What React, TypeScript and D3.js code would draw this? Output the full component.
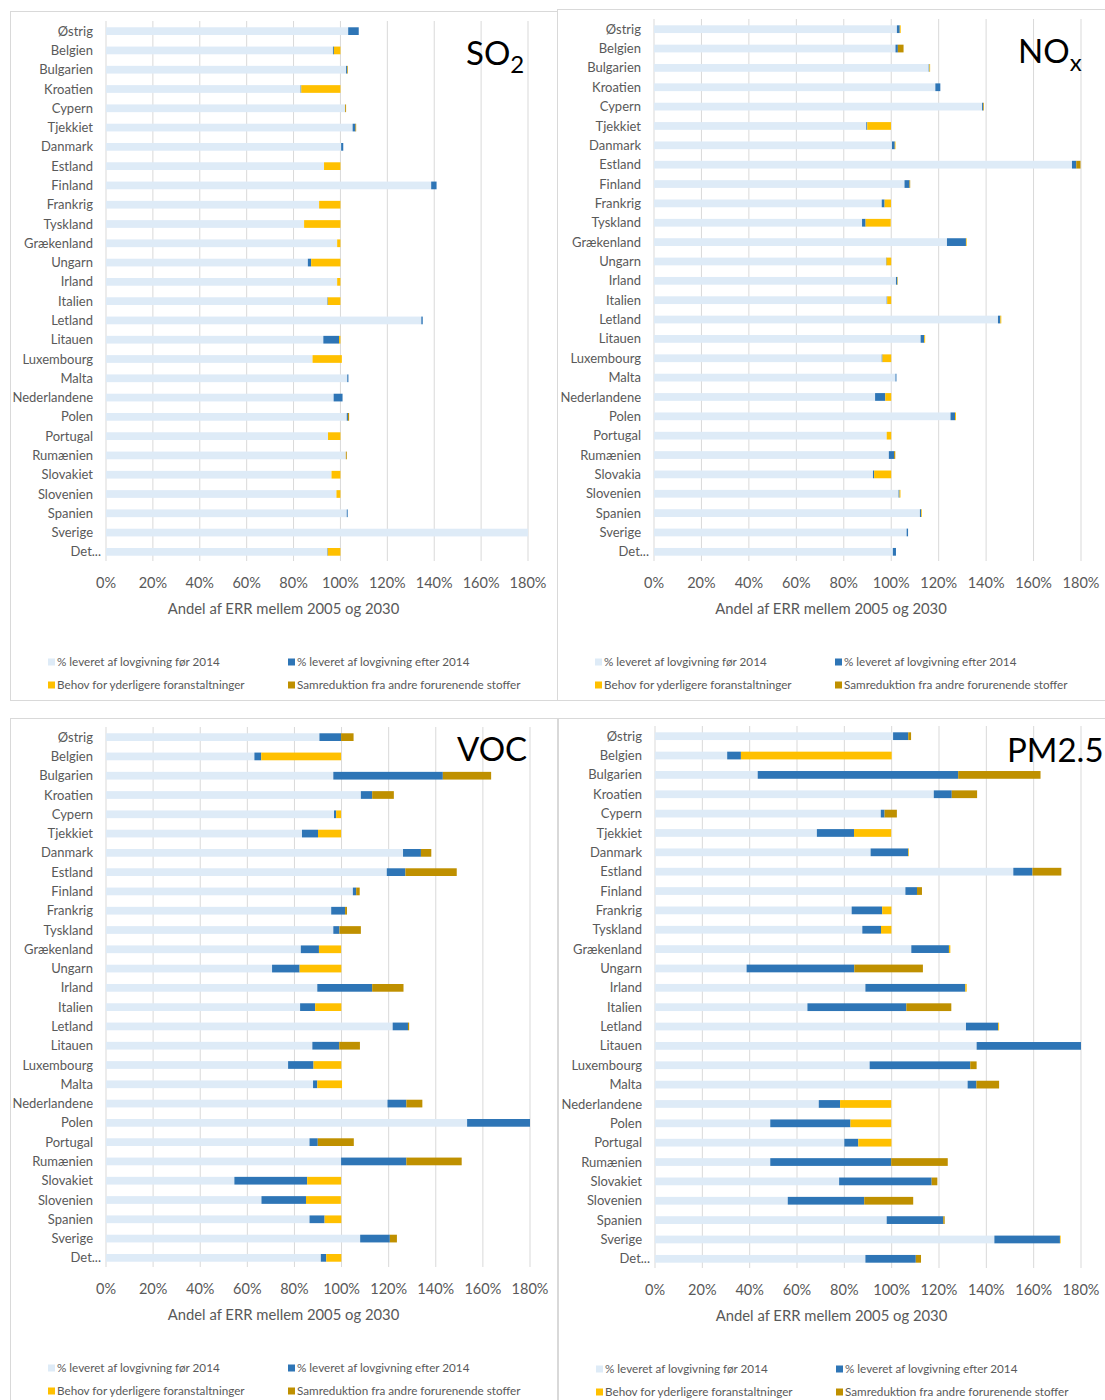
import React from 'react';
import * as d3 from 'd3';

// country labels (NOx panel uses "Slovakia")
const countries = [
  'Østrig', 'Belgien', 'Bulgarien', 'Kroatien', 'Cypern', 'Tjekkiet', 'Danmark', 'Estland', 'Finland',
  'Frankrig', 'Tyskland', 'Grækenland', 'Ungarn', 'Irland', 'Italien', 'Letland', 'Litauen', 'Luxembourg',
  'Malta', 'Nederlandene', 'Polen', 'Portugal', 'Rumænien', 'Slovakiet', 'Slovenien', 'Spanien', 'Sverige', 'Det...',
];
const countriesNox = countries.map(c => (c === 'Slovakiet' ? 'Slovakia' : c));

const tickValues = [0, 20, 40, 60, 80, 100, 120, 140, 160, 180];
const axisTitle = 'Andel af ERR mellem 2005 og 2030';

const seriesNames = [
  '% leveret af lovgivning før 2014',
  '% leveret af lovgivning efter 2014',
  'Behov for yderligere foranstaltninger',
  'Samreduktion fra andre forurenende stoffer',
];
const seriesColors = ['#deebf7', '#2e75b6', '#ffc000', '#bf9000'];

// SO2
const so2Pre = [103.3, 96.8, 102.4, 83, 102, 105.2, 100.3, 93, 138.7, 90.9, 84.5, 98.6, 86.1, 98.6, 94.4, 134.5, 92.7, 88.1, 102.9, 97.1, 102.7, 94.7, 102.3, 96.2, 98.3, 102.7, 180, 94.4];
const so2Post = [4.5, 0.4, 0.4, 0.3, 0, 1.2, 0.9, 0, 2.3, 0, 0, 0, 1.4, 0, 0.2, 0.6, 6.7, 0, 0.5, 3.8, 0.5, 0, 0, 0, 0, 0.4, 0, 0.2];
const so2Need = [0, 2.8, 0, 16.7, 0, 0, 0, 7, 0, 9.1, 15.5, 1.4, 12.5, 1.4, 5.4, 0, 0.6, 12.5, 0, 0, 0, 5.3, 0, 3.8, 1.7, 0, 0, 5.4];
const so2Co = [0, 0, 0.3, 0, 0.4, 0.3, 0, 0, 0, 0, 0, 0, 0, 0, 0, 0, 0, 0, 0, 0, 0.5, 0, 0.4, 0, 0, 0, 0, 0];

// NOx
const noxPre = [102.4, 101.8, 115.8, 118.6, 138.3, 89.5, 100.3, 176.2, 105.6, 96, 87.7, 123.5, 97.8, 102, 98.1, 145, 112.4, 96, 101.8, 93.2, 125, 98.1, 99, 92.3, 103.1, 112.1, 106.5, 100.7];
const noxPost = [1.2, 1.0, 0.3, 2.1, 0.4, 0.4, 1.2, 1.8, 2.1, 1.2, 1.5, 8, 0.2, 0.6, 0.2, 1, 1.5, 0.3, 0.4, 4.3, 1.9, 0, 2.2, 0.5, 0.4, 0.5, 0.6, 1.3];
const noxNeed = [0.4, 0, 0.3, 0, 0, 10, 0.3, 0, 0, 2.7, 10.6, 0.3, 2, 0.2, 1.7, 0.4, 0.4, 3.7, 0, 2.5, 0.4, 1.9, 0, 7.2, 0.4, 0.3, 0, 0];
const noxCo = [0, 2.4, 0, 0, 0.3, 0, 0, 1.8, 0.3, 0, 0, 0, 0, 0, 0, 0, 0, 0, 0, 0, 0, 0, 0.5, 0, 0, 0, 0, 0];

// VOC
const vocPre = [90.6, 63, 96.5, 108.2, 96.8, 83.2, 126.1, 119.2, 104.8, 95.6, 96.5, 82.7, 70.5, 89.7, 82.4, 121.7, 87.6, 77.3, 87.9, 119.5, 153.3, 86.4, 99.8, 54.5, 66, 86.4, 107.9, 91.2];
const vocPost = [9.2, 2.9, 46.5, 4.8, 0.9, 6.8, 7.6, 7.9, 1.4, 5.9, 2.6, 7.7, 11.7, 23.3, 6.4, 6.5, 11.4, 10.8, 1.8, 8, 26.7, 3.5, 27.7, 30.9, 18.9, 6.4, 12.6, 2.3];
const vocNeed = [0, 33.9, 0, 0, 2.1, 9.8, 0, 0, 0, 0, 0, 9.4, 17.7, 0, 11.1, 0, 0, 11.8, 10.5, 0, 0, 0, 0, 14.4, 14.8, 7.1, 0, 6.4];
const vocCo = [5.3, 0, 20.5, 9.2, 0, 0, 4.4, 21.8, 1.5, 0.8, 9.1, 0, 0, 13.3, 0, 0.5, 8.8, 0, 0, 6.8, 0, 15.3, 23.5, 0, 0, 0, 3, 0];

// PM2.5
const pmPre = [100.6, 30.5, 43.4, 117.8, 95.4, 68.4, 91.1, 151.4, 105.8, 83.1, 87.6, 108.3, 38.7, 88.9, 64.4, 131.4, 135.9, 90.7, 132.1, 69.2, 48.7, 80, 48.7, 77.8, 56.1, 97.9, 143.4, 88.9];
const pmPost = [6.4, 5.8, 84.7, 7.6, 1.6, 15.7, 15.9, 8.1, 4.9, 12.9, 7.9, 15.9, 45.5, 42.2, 41.8, 13.6, 44.1, 42.5, 3.7, 9, 33.9, 5.9, 51.1, 39.1, 32.3, 23.9, 27.7, 21.3];
const pmNeed = [0, 63.7, 0, 0, 0, 15.7, 0.3, 0, 0, 3.9, 4.4, 0.6, 0, 0.6, 0, 0.4, 0, 0, 0, 21.6, 17.2, 14, 0, 0, 0, 0, 0.3, 0];
const pmCo = [1.2, 0, 34.8, 10.7, 5.2, 0, 0, 12.2, 2.1, 0, 0, 0, 29, 0, 19, 0, 0, 2.7, 9.6, 0, 0, 0, 23.9, 2.4, 20.7, 0.6, 0, 2.2];

const FONT = 'Lato, "Open Sans", sans-serif';
const GREY = '#595959';
const GRID = '#d9d9d9';

type PanelProps = {
  box: { x: number; y: number; w: number; h: number };
  plotLeft: number;
  plotW: number;
  plotTop: number;
  plotBottom: number;
  labels: string[];
  series: number[][];
  title: React.ReactNode;
  titleX: number;
  titleY: number;
};

const Panel = ({ box, plotLeft, plotW, plotTop, plotBottom, labels, series, title, titleX, titleY }: PanelProps) => {
  const x = d3.scaleLinear().domain([0, 180]).range([plotLeft, plotLeft + plotW]).clamp(true);
  const y = d3.scaleBand().domain(labels).range([plotTop, plotBottom]).paddingInner(0.6).paddingOuter(0.3);

  const rows = labels.map((c, i) => ({ c, s0: series[0][i], s1: series[1][i], s2: series[2][i], s3: series[3][i] }));
  const stack = d3.stack<any>().keys(['s0', 's1', 's2', 's3'])(rows);

  const cx = box.x + box.w / 2;
  const legY = plotBottom + 101;

  return (
    <g>
      <rect x={box.x + 0.5} y={box.y + 0.5} width={box.w} height={box.h} fill="#fff" stroke={GRID} />
      {tickValues.map(t => (
        <line key={t} x1={x(t)} x2={x(t)} y1={plotTop} y2={plotBottom} stroke={GRID} strokeWidth={1} />
      ))}
      {stack.map((layer, k) => (
        <g key={k} fill={seriesColors[k]}>
          {layer.map((d, i) => {
            const w = x(d[1]) - x(d[0]);
            if (w <= 0) return null;
            return <rect key={i} x={x(d[0])} y={(y(labels[i]) as number) + 0.5} width={w} height={y.bandwidth()} />;
          })}
        </g>
      ))}
      {labels.map(c => (
        // the truncated last label sits closer to the axis, as in Excel
        <text key={c} x={c.endsWith('...') ? plotLeft - 5 : plotLeft - 13}
          y={(y(c) as number) + y.bandwidth() / 2 + 0.5} dy="0.35em"
          textAnchor="end" fontSize={13} fill={GREY} fontFamily={FONT}>{c}</text>
      ))}
      {tickValues.map(t => (
        <text key={t} x={x(t)} y={plotBottom + 22} dy="0.35em" textAnchor="middle"
          fontSize={14.5} fill={GREY} fontFamily={FONT}>{`${t}%`}</text>
      ))}
      <text x={cx} y={plotBottom + 48} dy="0.35em" textAnchor="middle" fontSize={14.8} fill={GREY} fontFamily={FONT}>
        {axisTitle}
      </text>
      {seriesNames.map((name, k) => {
        const lx = box.x + (k % 2 === 0 ? 38 : 278);
        const ly = legY + Math.floor(k / 2) * 23;
        return (
          <g key={name}>
            <rect x={lx} y={ly - 3.5} width={7} height={7} fill={seriesColors[k]} />
            <text x={lx + 9} y={ly} dy="0.35em" fontSize={11.7} fill={GREY} fontFamily={FONT}>{name}</text>
          </g>
        );
      })}
      <text x={titleX} y={titleY} fontSize={33} fill="#000" fontFamily={FONT}>{title}</text>
    </g>
  );
};

const App = () => {
  return (
    <svg width={1105} height={1400} style={{ position: 'absolute', left: 0, top: 0, background: '#fff' }}>
      <Panel
        box={{ x: 10, y: 11, w: 547, h: 689 }} plotLeft={106} plotW={422} plotTop={21} plotBottom={561}
        labels={countries} series={[so2Pre, so2Post, so2Need, so2Co]}
        title={<>SO<tspan fontSize={24} dy={8}>2</tspan></>} titleX={466} titleY={65}
      />
      <Panel
        box={{ x: 557, y: 9, w: 548, h: 691 }} plotLeft={654} plotW={427} plotTop={19} plotBottom={561}
        labels={countriesNox} series={[noxPre, noxPost, noxNeed, noxCo]}
        title={<>NO<tspan fontSize={24} dy={8}>x</tspan></>} titleX={1018} titleY={63}
      />
      <Panel
        box={{ x: 10, y: 718, w: 547, h: 690 }} plotLeft={106} plotW={424} plotTop={727} plotBottom={1267}
        labels={countries} series={[vocPre, vocPost, vocNeed, vocCo]}
        title="VOC" titleX={457} titleY={761}
      />
      <Panel
        box={{ x: 558, y: 718, w: 547, h: 690 }} plotLeft={655} plotW={426} plotTop={726} plotBottom={1268}
        labels={countries} series={[pmPre, pmPost, pmNeed, pmCo]}
        title="PM2.5" titleX={1007} titleY={762}
      />
    </svg>
  );
};

export default App;
